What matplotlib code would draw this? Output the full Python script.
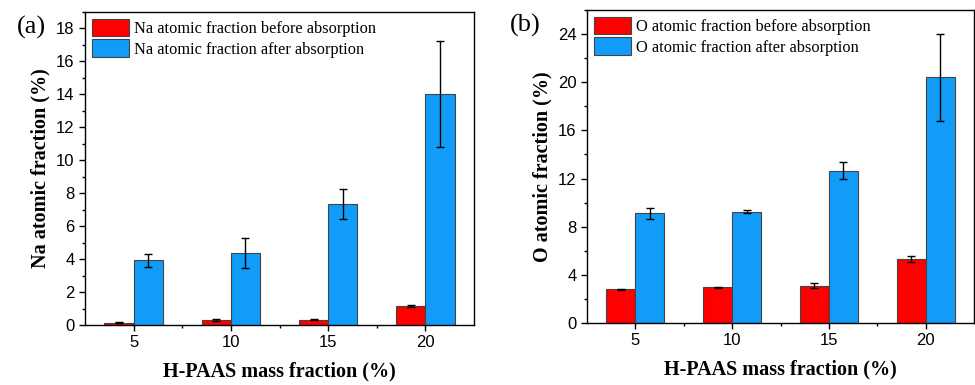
import matplotlib.pyplot as plt
import numpy as np
from matplotlib.ticker import MultipleLocator, FixedLocator

categories = ['5', '10', '15', '20']

na_before = [0.15, 0.32, 0.32, 1.15]
na_before_err = [0.03, 0.07, 0.03, 0.07]
na_after = [3.92, 4.37, 7.35, 14.02]
na_after_err = [0.40, 0.93, 0.90, 3.22]

o_before = [2.80, 2.95, 3.10, 5.30]
o_before_err = [0.05, 0.03, 0.20, 0.25]
o_after = [9.10, 9.25, 12.65, 20.40]
o_after_err = [0.45, 0.15, 0.70, 3.60]

red = '#FF0000'
blue = '#109CF8'
serif = ['Liberation Serif', 'DejaVu Serif']
sans = ['Liberation Sans', 'DejaVu Sans']

fig = plt.figure(figsize=(9.75, 3.85), dpi=100)
ax1 = fig.add_axes([85 / 975, 60 / 385, 389 / 975, 313 / 385])
ax2 = fig.add_axes([587 / 975, 62 / 385, 387 / 975, 313 / 385])


def draw_panel(ax, before, before_err, after, after_err, elem, ymax, major, minor, letter, lx):
    x = np.arange(len(categories))
    w = 0.3
    ek = dict(ecolor='black', elinewidth=1, capsize=3, capthick=1)
    ax.bar(x - w / 2, before, w, yerr=before_err, color=red, edgecolor='#444444',
           linewidth=0.8, error_kw=ek, label=elem + ' atomic fraction before absorption')
    ax.bar(x + w / 2, after, w, yerr=after_err, color=blue, edgecolor='#444444',
           linewidth=0.8, error_kw=ek, label=elem + ' atomic fraction after absorption')
    ax.set_xlim(-0.5, 3.5)
    ax.set_ylim(0, ymax)
    ax.set_xticks(x)
    ax.set_xticklabels(categories)
    ax.xaxis.set_minor_locator(FixedLocator([0.5, 1.5, 2.5]))
    ax.yaxis.set_major_locator(MultipleLocator(major))
    ax.yaxis.set_minor_locator(MultipleLocator(minor))
    ax.tick_params(which='major', direction='out', length=4, width=1, labelsize=12)
    ax.tick_params(which='minor', direction='out', length=2.5, width=1)
    for lab in ax.get_xticklabels() + ax.get_yticklabels():
        lab.set_family(sans)
    for s in ax.spines.values():
        s.set_linewidth(1)
    ax.set_xlabel('H-PAAS mass fraction (%)', family=serif, fontweight='bold',
                  fontsize=14.5, labelpad=8)
    ax.set_ylabel(elem + ' atomic fraction (%)', family=serif, fontweight='bold',
                  fontsize=14.5, labelpad=4)
    ax.legend(loc='upper left', frameon=False, handlelength=2.3, handleheight=1.3,
              handletextpad=0.3, borderaxespad=0.1, borderpad=0.3, labelspacing=0.15,
              prop={'family': serif, 'size': 11.8})
    ax.text(lx, 0.95, letter, transform=ax.transAxes, family=serif, fontsize=19,
            ha='right', va='center')


draw_panel(ax1, na_before, na_before_err, na_after, na_after_err, 'Na', 19, 2, 1, '(a)', -0.1)
draw_panel(ax2, o_before, o_before_err, o_after, o_after_err, 'O', 26, 4, 2, '(b)', -0.12)

fig.savefig('out.png', dpi=100)
